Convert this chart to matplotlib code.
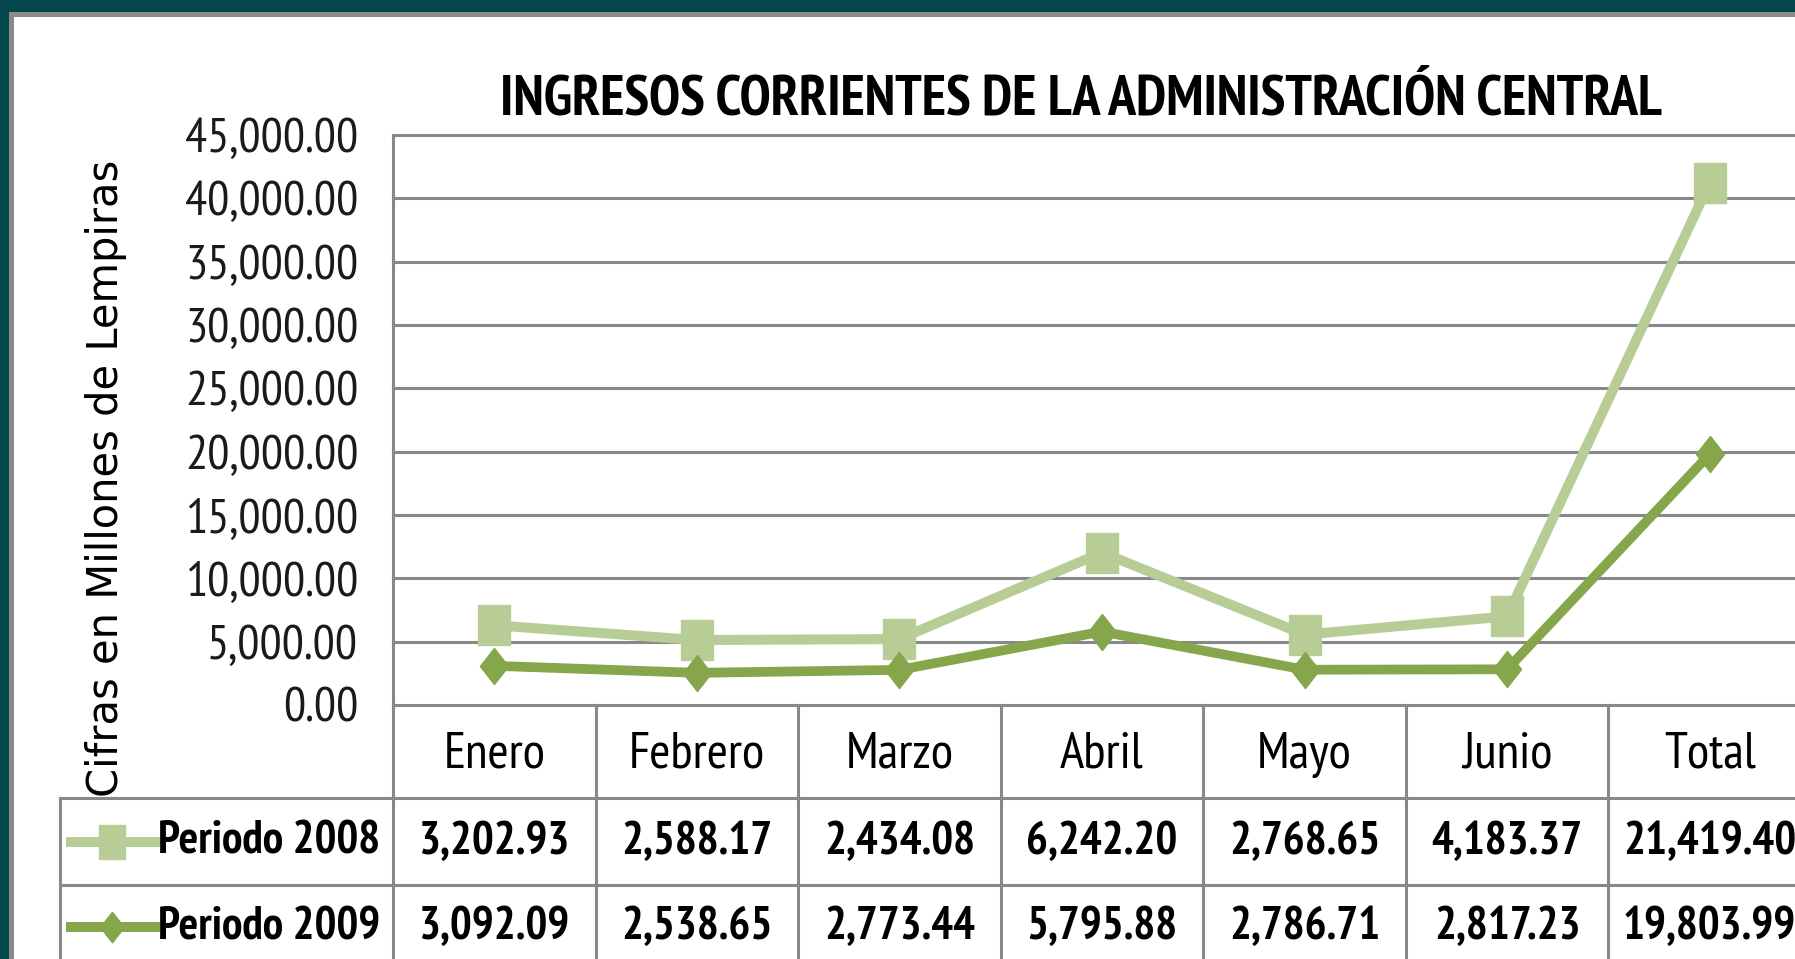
import numpy as np
import matplotlib
matplotlib.use("Agg")
import matplotlib.pyplot as plt
from matplotlib.lines import Line2D
from matplotlib.patches import Rectangle
from matplotlib.transforms import blended_transform_factory

# ---------------- data ----------------
categories = ["Enero", "Febrero", "Marzo", "Abril", "Mayo", "Junio", "Total"]
series_names = ["Periodo 2008", "Periodo 2009"]
values_2008 = [3202.93, 2588.17, 2434.08, 6242.20, 2768.65, 4183.37, 21419.40]
values_2009 = [3092.09, 2538.65, 2773.44, 5795.88, 2786.71, 2817.23, 19803.99]
y_ticks = [0, 5000, 10000, 15000, 20000, 25000, 30000, 35000, 40000, 45000]
title = "INGRESOS CORRIENTES DE LA ADMINISTRACIÓN CENTRAL"
y_label = "Cifras en Millones de Lempiras"

# ---------------- style ----------------
W, H = 1795, 959
NARROW = ["PT Sans Narrow", "Archivo Narrow", "Roboto Condensed",
          "IBM Plex Sans Condensed", "DejaVu Sans"]
TEAL = "#03474A"
GRID = "#888888"
C08 = "#B8CD96"
C09 = "#86A64C"

fig = plt.figure(figsize=(W / 100, H / 100), dpi=100)
fig.patch.set_facecolor("white")

def fx(px):
    return px / W

def fy(py):
    return 1 - py / H

# outer frame
fig.add_artist(Rectangle((0, fy(12.5)), 1, 12.5 / H, transform=fig.transFigure,
                         facecolor=TEAL, edgecolor="none", zorder=0))
fig.add_artist(Rectangle((0, 0), fx(9.2), 1, transform=fig.transFigure,
                         facecolor=TEAL, edgecolor="none", zorder=0))
fig.add_artist(Rectangle((fx(9.2), fy(17)), 1, 4.5 / H, transform=fig.transFigure,
                         facecolor="#8A8A8A", edgecolor="none", zorder=0))
fig.add_artist(Rectangle((fx(9.2), 0), fx(4.5), fy(12.5), transform=fig.transFigure,
                         facecolor="#8A8A8A", edgecolor="none", zorder=0))

# plot area
left_px, right_px, top_px, bot_px = 393, 1811, 135, 705
ax = fig.add_axes([fx(left_px), fy(bot_px), fx(right_px - left_px), (bot_px - top_px) / H])
ax.set_xlim(-0.5, len(categories) - 0.5)
ax.set_ylim(y_ticks[0], y_ticks[-1])
ax.set_facecolor("none")
for s in ["top", "right", "bottom"]:
    ax.spines[s].set_visible(False)
ax.spines["left"].set_color(GRID)
ax.spines["left"].set_linewidth(2.2)
ax.set_yticks(y_ticks)
ax.set_yticklabels([f"{v:,.2f}" for v in y_ticks], family=NARROW, fontsize=35.5,
                   color="#1a1a1a")
ax.tick_params(axis="y", length=0, pad=25)
ax.set_xticks([])
for v in y_ticks:
    ax.axhline(v, color=GRID, lw=2.2, zorder=1, clip_on=False)

x = np.arange(len(categories))
v08 = np.array(values_2008)
v09 = np.array(values_2009)
stacked_08 = v09 + v08  # stacked line chart

sq = [(-0.39, -0.5), (0.39, -0.5), (0.39, 0.5), (-0.39, 0.5), (-0.39, -0.5)]
dm = [(0, 0.5), (0.39, 0), (0, -0.5), (-0.39, 0), (0, 0.5)]

ax.plot(x, stacked_08, color=C08, lw=7.2, marker=sq, markersize=29.5,
        markerfacecolor=C08, markeredgecolor=C08, zorder=3, clip_on=False,
        solid_joinstyle="miter")
ax.plot(x, v09, color=C09, lw=7.0, marker=dm, markersize=26,
        markerfacecolor=C09, markeredgecolor=C09, zorder=4, clip_on=False,
        solid_joinstyle="miter")

fig.text(fx(1081), fy(100), title, ha="center", va="center",
         family=NARROW, fontweight="bold", fontsize=40.5)

fig.text(fx(106), fy(478), y_label, rotation=90, ha="center", va="center",
         family="DejaVu Sans", fontsize=30, color="black")

# ---------------- data table ----------------
bt = blended_transform_factory(ax.transData, fig.transFigure)
row_lines = [798, 885]
for py in row_lines:
    fig.add_artist(Line2D([fx(59.5), 1], [fy(py), fy(py)], transform=fig.transFigure,
                          color=GRID, lw=2.2, zorder=2))
fig.add_artist(Line2D([fx(59.5), fx(59.5)], [fy(798), 0], transform=fig.transFigure,
                      color=GRID, lw=2.2, zorder=2))
for k in range(len(categories) + 1):
    xb = k - 0.5
    ax.add_line(Line2D([xb, xb], [fy(bot_px), 0], transform=bt, color=GRID,
                       lw=2.2, clip_on=False, zorder=2))

header_y = fy(755)
row_y = [fy(842), fy(927)]
for i, c in enumerate(categories):
    ax.text(i, header_y, c, transform=bt, ha="center", va="center",
            family=NARROW, fontsize=37)
for r, vals in enumerate([values_2008, values_2009]):
    for i, v in enumerate(vals):
        ax.text(i, row_y[r], f"{v:,.2f}", transform=bt, ha="center", va="center",
                family=NARROW, fontsize=33, fontweight="bold")

# legend keys in row header
keys = [(C08, sq, 24), (C09, dm, 22)]
for r, (col, mk, ms) in enumerate(keys):
    fig.add_artist(Line2D([fx(71), fx(112), fx(155)], [row_y[r]] * 3,
                          transform=fig.transFigure, color=col, lw=7.2,
                          marker=mk, markersize=ms, markevery=[1],
                          markerfacecolor=col, markeredgecolor=col, zorder=3))
    fig.text(fx(158), row_y[r], series_names[r], ha="left", va="center",
             family=NARROW, fontsize=33, fontweight="bold")

fig.savefig("out.png", dpi=100, facecolor="white")
